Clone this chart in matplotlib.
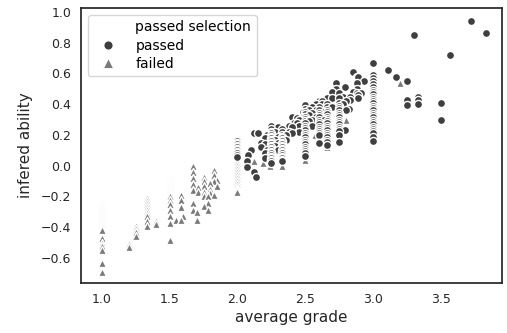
import matplotlib
matplotlib.use("Agg")
import matplotlib.pyplot as plt
from matplotlib.lines import Line2D
import numpy as np

# ---- data ----
failed_grades = [1.0, 1.2, 1.25, 1.33, 1.4, 1.5, 1.55, 1.58, 1.6, 1.67, 1.7, 1.71,
                 1.75, 1.78, 1.8, 1.83, 1.85, 2.0, 2.12, 2.19, 2.24, 2.33, 2.5,
                 2.57, 2.66, 2.8, 3.2]
failed_abilities = [
    [-0.69, -0.63, -0.55, -0.52, -0.50, -0.47, -0.42, -0.41, -0.40, -0.39, -0.38,
     -0.37, -0.36, -0.35, -0.34, -0.33, -0.32, -0.31, -0.30, -0.29, -0.28, -0.27,
     -0.26, -0.25, -0.24],
    [-0.53, -0.51],
    [-0.46, -0.43, -0.41, -0.39],
    [-0.39, -0.36, -0.33, -0.31, -0.29, -0.27, -0.25, -0.23, -0.21],
    [-0.38, -0.36, -0.35],
    [-0.48, -0.37, -0.33, -0.29, -0.25, -0.22, -0.20, -0.19, -0.18, -0.17, -0.16,
     -0.15, -0.14, -0.13, -0.12, -0.11, -0.10, -0.09, -0.08, -0.07],
    [-0.35, -0.34],
    [-0.35, -0.27, -0.22, -0.19],
    [-0.33],
    [-0.29, -0.24, -0.16, -0.12, -0.08, -0.04, 0.0],
    [-0.35, -0.30],
    [-0.17, -0.14],
    [-0.26, -0.20, -0.17, -0.13, -0.10, -0.07],
    [-0.29, -0.24, -0.20],
    [-0.18, -0.15, -0.11],
    [-0.19, -0.10, -0.06, -0.03],
    [-0.13, -0.09],
    [-0.17, -0.16, -0.15, -0.14, -0.12, -0.10, -0.08, -0.06, -0.04, -0.02, 0.0,
     0.02, 0.04],
    [0.03],
    [0.016],
    [0.0],
    [0.0],
    [0.04],
    [0.20],
    [0.12],
    [0.30],
    [0.54],
]

passed_grades = [2.0, 2.07, 2.08, 2.1, 2.12, 2.14, 2.15, 2.17, 2.2, 2.22, 2.25, 2.28,
                 2.3, 2.33, 2.36, 2.38, 2.4, 2.42, 2.44, 2.45, 2.48, 2.5, 2.53, 2.55,
                 2.58, 2.6, 2.62, 2.64, 2.66, 2.7, 2.73, 2.75, 2.78, 2.79, 2.8, 2.82,
                 2.83, 2.85, 2.88, 2.89, 2.91, 2.93, 3.0, 3.11, 3.17, 3.25, 3.3, 3.33,
                 3.5, 3.57, 3.72, 3.83]
passed_abilities = [
    [0.06, 0.07, 0.08, 0.09, 0.10, 0.11, 0.12, 0.13, 0.14, 0.15, 0.16, 0.17],
    [0.03, -0.01],
    [0.07],
    [0.10],
    [0.21, -0.04],
    [-0.07],
    [0.21],
    [0.15, 0.12],
    [0.18, 0.14, 0.08, 0.05],
    [0.20, 0.10],
    [0.26, 0.24, 0.22, 0.21, 0.20, 0.19, 0.18, 0.17, 0.16, 0.15, 0.14, 0.13, 0.12,
     0.11, 0.10, 0.09, 0.08, 0.07, 0.06, 0.05, 0.04, 0.03, 0.02],
    [0.22, 0.17, 0.13],
    [0.25, 0.19, 0.15, 0.10],
    [0.24, 0.22, 0.20, 0.19, 0.18, 0.17, 0.16, 0.15, 0.14, 0.13, 0.12, 0.11, 0.10,
     0.09, 0.08, 0.07, 0.06, 0.05, 0.04, 0.03],
    [0.20, 0.17],
    [0.26, 0.22],
    [0.32, 0.25, 0.21],
    [0.28],
    [0.31, 0.28],
    [0.30, 0.26, 0.22],
    [0.35, 0.32],
    [0.395, 0.37, 0.35, 0.335, 0.32, 0.305, 0.29, 0.275, 0.26, 0.245, 0.23, 0.215,
     0.20, 0.185, 0.17, 0.155, 0.14, 0.125, 0.11, 0.095, 0.08, 0.065],
    [0.36, 0.33, 0.29],
    [0.38, 0.34, 0.30, 0.26],
    [0.40, 0.36, 0.32],
    [0.42, 0.38, 0.36, 0.345, 0.33, 0.315, 0.30, 0.285, 0.27, 0.255, 0.24, 0.225,
     0.21, 0.20, 0.15],
    [0.42, 0.40],
    [0.35, 0.30],
    [0.44, 0.40, 0.38, 0.365, 0.35, 0.335, 0.32, 0.305, 0.29, 0.275, 0.26, 0.245,
     0.23, 0.215, 0.20, 0.185, 0.17, 0.155, 0.135],
    [0.48, 0.44, 0.38],
    [0.54, 0.50],
    [0.47, 0.44, 0.41, 0.39, 0.375, 0.36, 0.345, 0.33, 0.315, 0.30, 0.285, 0.27,
     0.255, 0.24, 0.225, 0.20, 0.157],
    [0.45, 0.40],
    [0.51, 0.23],
    [0.42, 0.36],
    [0.37],
    [0.45, 0.43],
    [0.61, 0.48],
    [0.58, 0.54, 0.50, 0.47],
    [0.575, 0.46, 0.44],
    [0.47],
    [0.55],
    [0.67, 0.59, 0.57, 0.55, 0.53, 0.51, 0.495, 0.48, 0.465, 0.45, 0.435, 0.42,
     0.405, 0.39, 0.375, 0.36, 0.345, 0.33, 0.315, 0.30, 0.285, 0.27, 0.255, 0.24,
     0.225, 0.21, 0.19, 0.16],
    [0.62],
    [0.58],
    [0.55, 0.43, 0.395],
    [0.85],
    [0.45, 0.43, 0.40],
    [0.41, 0.30],
    [0.72],
    [0.94],
    [0.865],
]

legend_labels = ["passed selection", "passed", "failed"]
x_label = "average grade"
y_label = "infered ability"

# ---- expand ----
fx = np.concatenate([[g] * len(a) for g, a in zip(failed_grades, failed_abilities)])
fy = np.concatenate([a for a in failed_abilities])
px = np.concatenate([[g] * len(a) for g, a in zip(passed_grades, passed_abilities)])
py = np.concatenate([a for a in passed_abilities])

# draw order: higher points first, lower ones on top
of = np.argsort(-fy, kind="stable")
op = np.argsort(-py, kind="stable")
fx, fy = fx[of], fy[of]
px, py = px[op], py[op]

c_pass = "#3f3f3f"
c_fail = "#7a7a7a"

fig = plt.figure(figsize=(5.07, 3.33), dpi=100)
ax = fig.add_axes([0.160, 0.150, 0.830, 0.826])

ax.scatter(fx, fy, s=34, marker="^", c=c_fail, edgecolors="white", linewidths=1.0, zorder=2)
ax.scatter(px, py, s=34, marker="o", c=c_pass, edgecolors="white", linewidths=1.0, zorder=2)

ax.set_xlim(0.847, 3.95)
ax.set_ylim(-0.763, 1.026)
ax.set_xticks([1.0, 1.5, 2.0, 2.5, 3.0, 3.5])
ax.set_yticks([-0.6, -0.4, -0.2, 0.0, 0.2, 0.4, 0.6, 0.8, 1.0])
ax.tick_params(length=0, labelsize=9, pad=7, colors="#262626")
for sp in ax.spines.values():
    sp.set_linewidth(1.25)
    sp.set_color("#262626")
ax.set_xlabel(x_label, fontsize=11, color="#262626", labelpad=3)
ax.set_ylabel(y_label, fontsize=11, color="#262626", labelpad=6)

handles = [
    Line2D([], [], linestyle="", marker=""),
    Line2D([], [], linestyle="", marker="o", markersize=6.5, color=c_pass, markeredgecolor="white", markeredgewidth=0.6),
    Line2D([], [], linestyle="", marker="^", markersize=6.5, color=c_fail, markeredgecolor="white", markeredgewidth=0.6),
]
leg = ax.legend(handles, legend_labels, loc="upper left", fontsize=10, frameon=True,
                borderpad=0.4, labelspacing=0.3, handletextpad=1.0,
                bbox_to_anchor=(0.0, 1.0))
leg.get_frame().set_edgecolor("#cccccc")

fig.savefig("out.png", dpi=100)
